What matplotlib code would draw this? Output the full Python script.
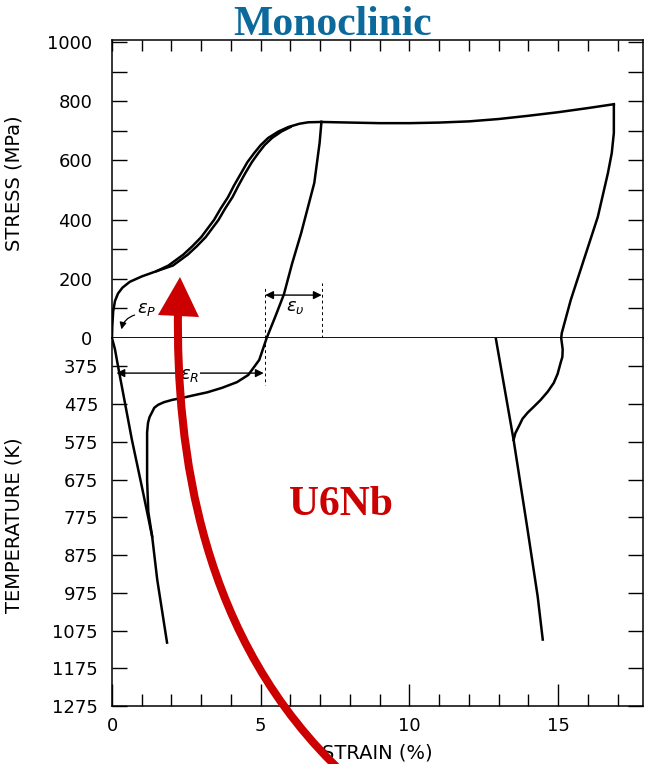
import matplotlib
matplotlib.use('Agg')
import matplotlib.pyplot as plt
from matplotlib.patches import PathPatch, Polygon
from matplotlib.path import Path

# ---- data ----
# stress-strain at 300 K: first loading to ~7 %
load_strain = [0.0, 0.01, 0.04, 0.1, 0.2, 0.35, 0.6, 1.0, 1.5, 1.9, 2.4, 2.7, 3.0, 3.2, 3.43,
               3.65, 3.9, 4.1, 4.34, 4.55, 4.78, 5.0, 5.25, 5.6, 5.93, 6.3, 6.6, 7.04]
load_stress = [0, 40, 90, 125, 150, 170, 190, 208, 226, 245, 282, 310, 341, 368, 399,
               437, 476, 515, 557, 594, 625, 652, 676, 698, 713, 724, 729, 730]
# second (nearly overlapping) loading trace
reload_strain = [1.5, 2.05, 2.55, 2.85, 3.15, 3.35, 3.58, 3.8, 4.05, 4.25, 4.48, 4.7, 4.92,
                 5.13, 5.38, 5.7, 6.0]
reload_stress = [226, 245, 282, 310, 341, 368, 399, 437, 476, 515, 557, 594, 625,
                 652, 676, 698, 713]
# unloading from 7 %
unload1_strain = [7.04, 6.98, 6.8, 6.36, 6.05, 5.78, 5.5, 5.2]
unload1_stress = [730, 660, 524, 355, 250, 148, 75, 0]
# continued loading to ~17 %
plateau_strain = [7.04, 8.0, 9.0, 10.0, 11.0, 12.0, 13.0, 14.0, 15.0, 16.0, 16.87]
plateau_stress = [730, 728, 726, 726, 728, 732, 740, 751, 763, 777, 790]
# unloading from 17 %
unload2_strain = [16.87, 16.87, 16.8, 16.67, 16.33, 15.86, 15.42, 15.12, 15.1]
unload2_stress = [790, 693, 625, 557, 409, 264, 128, 17, 0]

# strain-temperature on heating
heat1_strain = [5.2, 4.95, 4.58, 4.2, 3.7, 3.2, 2.79, 2.4, 2.02, 1.75, 1.55, 1.42, 1.35, 1.26,
                1.21, 1.18, 1.18, 1.22, 1.35, 1.52, 1.85]
heat1_temp = [300, 358, 398, 417, 432, 444, 451, 458, 464, 470, 477, 485, 496, 510,
              525, 550, 676, 760, 826, 940, 1107]
base1_strain = [0.0, 0.1, 0.18, 0.27, 0.67, 1.02, 1.35]
base1_temp = [300, 330, 365, 403, 570, 700, 826]
heat2_strain = [15.1, 15.15, 15.14, 15.08, 14.98, 14.85, 14.65, 14.41, 14.18, 13.97, 13.8,
                13.67, 13.56, 13.5]
heat2_temp = [300, 330, 350, 366, 395, 419, 442, 464, 482, 498, 514, 535, 552, 570]
base2_strain = [12.9, 13.5, 13.97, 14.31, 14.48]
base2_temp = [300, 570, 808, 985, 1099]

stress_ticks = [0, 200, 400, 600, 800, 1000]
temp_ticks = [375, 475, 575, 675, 775, 875, 975, 1075, 1175, 1275]
temp_labels = ['375', '475', '575', '675', '775', '875', '975', '1075', '1175', '1275']
strain_ticks = [0, 5, 10, 15]

plt.rcParams['font.family'] = 'DejaVu Sans'

W, H = 647, 764
fig = plt.figure(figsize=(W / 100, H / 100), dpi=100)


def box(x0, y0, x1, y1):
    return [x0 / W, 1 - y1 / H, (x1 - x0) / W, (y1 - y0) / H]


def px(x, y):
    # overlay pixel position (y downward) -> figure fraction
    return (x / W, 1 - y / H)


ax1 = fig.add_axes(box(112, 40, 643, 338))
ax2 = fig.add_axes(box(112, 338, 643, 706))

lw = 1.8
ax1.plot(load_strain, load_stress, color='black', lw=lw)
ax1.plot(reload_strain, reload_stress, color='black', lw=lw)
ax1.plot(unload1_strain, unload1_stress, color='black', lw=lw)
ax1.plot(plateau_strain, plateau_stress, color='black', lw=lw)
ax1.plot(unload2_strain, unload2_stress, color='black', lw=lw)

ax2.plot(heat1_strain, heat1_temp, color='black', lw=lw)
ax2.plot(base1_strain, base1_temp, color='black', lw=lw)
ax2.plot(heat2_strain, heat2_temp, color='black', lw=lw)
ax2.plot(base2_strain, base2_temp, color='black', lw=lw)

# axes limits
ax1.set_xlim(0, 17.85)
ax2.set_xlim(0, 17.85)
ax1.set_ylim(0, 1007)
ax2.set_ylim(1274, 300)

# ticks
ax1.set_yticks(stress_ticks)
ax1.set_yticks(range(100, 1000, 200), minor=True)
ax1.set_xticks(range(0, 18))
ax1.tick_params(axis='y', which='both', direction='in', left=True, right=True,
                length=11, width=1, labelsize=13, pad=14)
ax1.tick_params(axis='x', which='both', direction='in', bottom=False, top=True,
                labelbottom=False, length=8, width=1)

ax2.set_yticks(temp_ticks)
ax2.set_yticklabels(temp_labels)
ax2.set_xticks(strain_ticks)
ax2.set_xticks(range(0, 18), minor=True)
ax2.tick_params(axis='y', direction='in', left=True, right=True,
                length=11, width=1, labelsize=13, pad=10)
ax2.tick_params(axis='x', which='major', direction='in', length=16, width=1,
                labelsize=13, pad=8)
ax2.tick_params(axis='x', which='minor', direction='in', length=9, width=1)

for ax in (ax1, ax2):
    for s in ax.spines.values():
        s.set_linewidth(1.1)
ax2.spines['top'].set_visible(False)
ax1.spines['bottom'].set_linewidth(1.3)

ax1.set_ylabel('STRESS (MPa)', fontsize=14)
ax1.yaxis.set_label_coords(-0.166, 0.52)
ax2.set_ylabel('TEMPERATURE (K)', fontsize=14)
ax2.yaxis.set_label_coords(-0.166, 0.49)
ax2.set_xlabel('STRAIN (%)', fontsize=14, labelpad=6)

# strain annotations
ax1.annotate('', xy=(0.3, 20), xytext=(0.85, 80),
             arrowprops=dict(arrowstyle='-|>', connectionstyle='arc3,rad=0.35',
                             color='black', lw=0.9, mutation_scale=10))
ax1.text(1.15, 98, r'$\epsilon_P$', fontsize=13, ha='center', va='center')

ax1.vlines([5.15], 0, 170, colors='black', linestyles=(0, (3, 3)), lw=0.7)
ax1.vlines([7.05], 0, 185, colors='black', linestyles=(0, (3, 3)), lw=0.7)
ax1.annotate('', xy=(5.15, 145), xytext=(7.05, 145),
             arrowprops=dict(arrowstyle='<|-|>', color='black', lw=1.0,
                             mutation_scale=12, shrinkA=0, shrinkB=0))
ax1.text(6.15, 105, r'$\epsilon_\upsilon$', fontsize=13, ha='center', va='center')

ax2.vlines([5.15], 300, 424, colors='black', linestyles=(0, (3, 3)), lw=0.7)
ax2.annotate('', xy=(0.15, 393), xytext=(5.1, 393),
             arrowprops=dict(arrowstyle='<|-|>', color='black', lw=1.0,
                             mutation_scale=12, shrinkA=0, shrinkB=0))
ax2.text(2.6, 398, r'$\epsilon_R$', fontsize=13, ha='center', va='center',
         bbox=dict(facecolor='white', edgecolor='none', pad=1))

# overlay labels
fig.text(333 / W, 1 - 35 / H, 'Monoclinic', fontsize=30, fontweight='bold',
         family='Liberation Serif', color='#0b6a9b', ha='center', va='baseline')
fig.text(341 / W, 1 - 515 / H, 'U6Nb', fontsize=30, fontweight='bold',
         family='Liberation Serif', color='#cc0000', ha='center', va='baseline')

# big red arrow: curved shaft + triangular head
shaft = Path([px(345, 775), px(200, 640), px(176, 450), px(178, 308)],
             [Path.MOVETO, Path.CURVE4, Path.CURVE4, Path.CURVE4])
fig.add_artist(PathPatch(shaft, facecolor='none', edgecolor='#cc0000', lw=5.8,
                         transform=fig.transFigure, capstyle='butt'))
fig.add_artist(Polygon([px(180, 277), px(158, 315), px(199, 317)], closed=True,
                       facecolor='#cc0000', edgecolor='none', transform=fig.transFigure))

fig.savefig('out.png', dpi=100)
